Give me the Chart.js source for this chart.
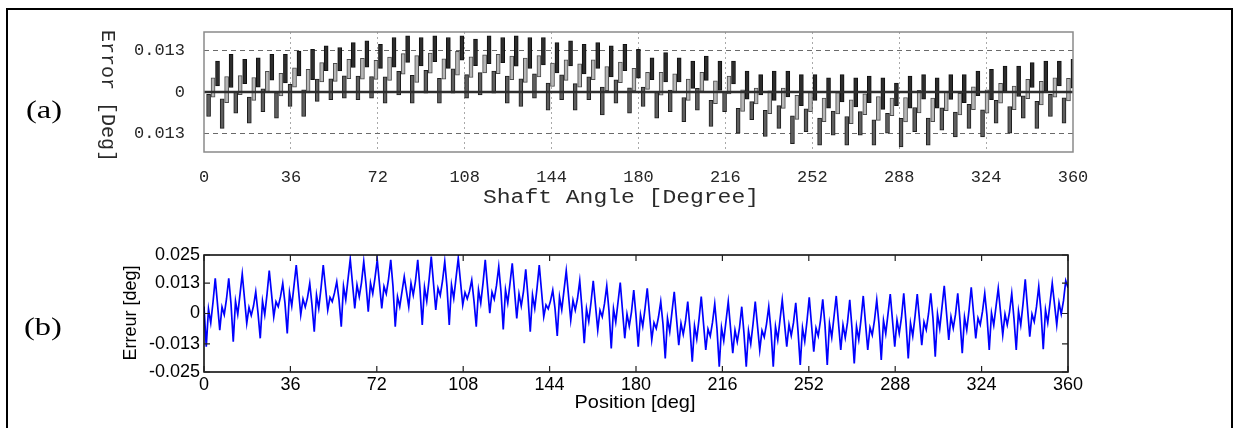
<!DOCTYPE html>
<html>
<head>
<meta charset="utf-8">
<script src="https://cdn.jsdelivr.net/npm/chart.js@4.4.1/dist/chart.umd.min.js"></script>
<style>
html,body{margin:0;padding:0;background:#fff;}
#page{position:relative;width:1236px;height:428px;overflow:hidden;background:#fff;}
.frame{position:absolute;left:6px;top:8px;width:1227px;height:460px;border:2px solid #000;box-sizing:border-box;}
canvas{position:absolute;left:0;}
.lbl{position:absolute;white-space:nowrap;line-height:1;}
</style>
</head>
<body>
<div id="page">
<div class="frame"></div>
<canvas id="chartA" width="1236" height="215" style="top:0;width:1236px;height:215px"></canvas>
<canvas id="chartB" width="1236" height="200" style="top:228px;width:1236px;height:200px"></canvas>
<div class="lbl" style="left:44px;top:110px;transform:translate(-50%,-50%) scaleX(1.3);font:25px 'Liberation Serif';color:#000">(a)</div>
<div class="lbl" style="left:43px;top:327px;transform:translate(-50%,-50%) scaleX(1.3);font:25px 'Liberation Serif';color:#000">(b)</div>
<div class="lbl" style="left:107px;top:96px;transform:translate(-50%,-50%) rotate(90deg);font:20px 'Liberation Mono';color:#2a2a2a">Error [Deg]</div>
<div class="lbl" style="left:621px;top:197px;transform:translate(-50%,-50%) scaleX(1.15);font:20px 'Liberation Mono';color:#2a2a2a">Shaft Angle [Degree]</div>
<div class="lbl" style="left:130px;top:313px;transform:translate(-50%,-50%) rotate(-90deg);font:18px 'Liberation Sans';color:#000">Erreur [deg]</div>
<div class="lbl" style="left:635px;top:402px;transform:translate(-50%,-50%) scaleX(1.05);font:19px 'Liberation Sans';color:#000">Position [deg]</div>
</div>
<script>
// ---------- Panel (a): Shaft angle error, floating bars per encoder cycle ----------
const xTicksA = [0, 36, 72, 108, 144, 180, 216, 252, 288, 324, 360];
const yTickValuesA = [0.013, 0, -0.013];
const yTickLabelsA = ['0.013', '0', '0.013'];
const cyclesA = 64;
const barOffsetsA = [1.9, 3.75, 5.6]; // degrees within each cycle
const troughBars = [
[-0.0076,-0.0007],[-0.0113,-0.0021],[-0.0066,0.0001],[-0.0097,-0.0016],[-0.0061,0.0010],[-0.0081,-0.0002],[-0.0045,0.0024],[-0.0076,0.0007],
[-0.0029,0.0040],[-0.0024,0.0041],[-0.0019,0.0050],[-0.0024,0.0049],[-0.0019,0.0048],[-0.0035,0.0047],[-0.0009,0.0064],[-0.0035,0.0052],
[-0.0004,0.0067],[-0.0035,0.0042],[-0.0004,0.0072],[-0.0019,0.0054],[-0.0009,0.0060],[-0.0004,0.0065],[-0.0035,0.0049],[-0.0045,0.0041],
[-0.0019,0.0056],[-0.0056,0.0028],[-0.0024,0.0053],[-0.0056,0.0026],[-0.0024,0.0047],[-0.0071,0.0015],[-0.0035,0.0038],[-0.0066,0.0013],
[-0.0045,0.0015],[-0.0081,0.0000],[-0.0061,0.0006],[-0.0092,-0.0017],[-0.0056,0.0011],[-0.0107,-0.0026],[-0.0061,0.0002],[-0.0128,-0.0051],
[-0.0086,-0.0030],[-0.0138,-0.0057],[-0.0113,-0.0042],[-0.0160,-0.0074],[-0.0123,-0.0052],[-0.0165,-0.0081],[-0.0134,-0.0059],[-0.0165,-0.0076],
[-0.0134,-0.0061],[-0.0165,-0.0086],[-0.0128,-0.0066],[-0.0170,-0.0082],[-0.0123,-0.0048],[-0.0165,-0.0081],[-0.0118,-0.0049],[-0.0139,-0.0062],
[-0.0113,-0.0038],[-0.0139,-0.0055],[-0.0097,-0.0026],[-0.0128,-0.0045],[-0.0081,-0.0012],[-0.0113,-0.0029],[-0.0076,-0.0007],[-0.0097,-0.0018]
];
const midBars = [
[-0.0016,0.0044],[-0.0033,0.0048],[-0.0008,0.0051],[-0.0026,0.0045],[0.0001,0.0064],[-0.0012,0.0058],[0.0015,0.0075],[-0.0003,0.0070],
[0.0031,0.0091],[0.0033,0.0089],[0.0041,0.0101],[0.0040,0.0104],[0.0039,0.0098],[0.0036,0.0108],[0.0055,0.0119],[0.0030,0.0113],
[0.0058,0.0121],[0.0040,0.0103],[0.0052,0.0126],[0.0045,0.0109],[0.0059,0.0115],[0.0057,0.0117],[0.0038,0.0111],[0.0030,0.0105],
[0.0047,0.0113],[0.0017,0.0090],[0.0036,0.0100],[0.0015,0.0087],[0.0038,0.0100],[0.0004,0.0079],[0.0029,0.0093],[0.0003,0.0073],
[0.0008,0.0061],[-0.0010,0.0061],[-0.0003,0.0056],[-0.0026,0.0040],[0.0002,0.0061],[-0.0036,0.0035],[-0.0006,0.0049],[-0.0060,0.0007],
[-0.0037,0.0012],[-0.0067,0.0004],[-0.0051,0.0012],[-0.0085,-0.0010],[-0.0061,0.0001],[-0.0092,-0.0019],[-0.0068,-0.0002],[-0.0098,-0.0024],
[-0.0070,-0.0006],[-0.0088,-0.0014],[-0.0073,-0.0019],[-0.0093,-0.0017],[-0.0065,0.0005],[-0.0092,-0.0019],[-0.0058,0.0002],[-0.0071,-0.0004],
[-0.0055,0.0016],[-0.0066,0.0007],[-0.0035,0.0027],[-0.0055,0.0018],[-0.0021,0.0039],[-0.0040,0.0033],[-0.0016,0.0044],[-0.0028,0.0042]
];
const peakBars = [
[0.0019,0.0096],[0.0014,0.0117],[0.0026,0.0101],[0.0015,0.0106],[0.0037,0.0117],[0.0028,0.0117],[0.0050,0.0127],[0.0038,0.0132],
[0.0066,0.0143],[0.0065,0.0138],[0.0076,0.0153],[0.0077,0.0159],[0.0073,0.0148],[0.0077,0.0169],[0.0092,0.0174],[0.0081,0.0169],
[0.0094,0.0174],[0.0073,0.0169],[0.0099,0.0174],[0.0082,0.0164],[0.0088,0.0174],[0.0091,0.0169],[0.0080,0.0174],[0.0073,0.0169],
[0.0084,0.0169],[0.0059,0.0153],[0.0081,0.0159],[0.0056,0.0148],[0.0073,0.0153],[0.0047,0.0143],[0.0066,0.0148],[0.0043,0.0132],
[0.0038,0.0106],[0.0031,0.0122],[0.0031,0.0106],[0.0011,0.0096],[0.0036,0.0111],[0.0005,0.0096],[0.0025,0.0096],[-0.0022,0.0065],
[-0.0009,0.0054],[-0.0026,0.0065],[-0.0015,0.0065],[-0.0042,0.0054],[-0.0026,0.0054],[-0.0050,0.0044],[-0.0031,0.0054],[-0.0046,0.0044],
[-0.0033,0.0049],[-0.0054,0.0044],[-0.0042,0.0028],[-0.0050,0.0049],[-0.0022,0.0054],[-0.0050,0.0044],[-0.0023,0.0054],[-0.0033,0.0054],
[-0.0011,0.0065],[-0.0024,0.0070],[0.0000,0.0080],[-0.0014,0.0080],[0.0014,0.0091],[0.0002,0.0096],[0.0019,0.0096],[0.0012,0.0101]
];

// ---------- Panel (b): Position error, continuous trace ----------
const xTicksB = [0, 36, 72, 108, 144, 180, 216, 252, 288, 324, 360];
const yTickValuesB = [0.025, 0.013, 0, -0.013, -0.025];
const yTickLabelsB = ['0.025', '0.013', '0', '-0.013', '-0.025'];
const errorB = [
0.0030,-0.0142,0.0019,-0.0040,0.0048,0.0150,
0.0040,-0.0071,0.0028,-0.0005,0.0062,0.0150,
0.0042,-0.0120,0.0053,-0.0004,0.0082,0.0169,
0.0064,-0.0042,0.0026,-0.0008,0.0032,0.0093,
0.0003,-0.0106,0.0053,-0.0005,0.0082,0.0183,
0.0085,-0.0014,0.0050,0.0029,0.0072,0.0129,
0.0043,-0.0085,0.0090,0.0032,0.0119,0.0207,
0.0101,-0.0006,0.0062,0.0028,0.0068,0.0129,
0.0036,-0.0078,0.0079,0.0022,0.0107,0.0207,
0.0111,0.0015,0.0069,0.0051,0.0088,0.0136,
0.0059,-0.0056,0.0117,0.0059,0.0146,0.0232,
0.0127,0.0022,0.0122,0.0072,0.0132,0.0222,
0.0126,0.0008,0.0130,0.0085,0.0152,0.0229,
0.0126,0.0022,0.0115,0.0084,0.0146,0.0229,
0.0115,-0.0056,0.0072,0.0029,0.0093,0.0157,
0.0093,0.0029,0.0129,0.0079,0.0139,0.0229,
0.0104,-0.0049,0.0112,0.0053,0.0141,0.0243,
0.0129,0.0015,0.0108,0.0077,0.0139,0.0222,
0.0114,-0.0049,0.0122,0.0065,0.0151,0.0236,
0.0136,0.0036,0.0090,0.0063,0.0095,0.0143,
0.0053,-0.0056,0.0101,0.0044,0.0129,0.0229,
0.0115,0.0001,0.0091,0.0061,0.0120,0.0200,
0.0093,-0.0068,0.0101,0.0045,0.0129,0.0214,
0.0097,-0.0021,0.0084,0.0032,0.0095,0.0189,
0.0069,-0.0078,0.0079,0.0022,0.0107,0.0207,
0.0097,-0.0014,0.0037,0.0020,0.0054,0.0100,
0.0022,-0.0096,0.0071,0.0016,0.0099,0.0183,
0.0078,-0.0028,0.0056,0.0014,0.0064,0.0140,
0.0020,-0.0127,0.0020,-0.0034,0.0047,0.0140,
0.0035,-0.0071,0.0014,-0.0014,0.0042,0.0118,
0.0011,-0.0149,0.0020,-0.0037,0.0048,0.0132,
0.0013,-0.0106,-0.0003,-0.0054,0.0007,0.0100,
-0.0009,-0.0142,-0.0005,-0.0055,0.0021,0.0108,
-0.0003,-0.0113,-0.0039,-0.0064,-0.0015,0.0051,
-0.0046,-0.0192,-0.0021,-0.0078,0.0008,0.0093,
-0.0021,-0.0135,-0.0042,-0.0089,-0.0033,0.0051,
-0.0065,-0.0206,-0.0053,-0.0109,-0.0025,0.0072,
-0.0042,-0.0156,-0.0067,-0.0097,-0.0038,0.0041,
-0.0066,-0.0227,-0.0060,-0.0116,-0.0032,0.0051,
-0.0060,-0.0170,-0.0071,-0.0120,-0.0061,0.0029,
-0.0086,-0.0227,-0.0074,-0.0130,-0.0046,0.0051,
-0.0053,-0.0156,-0.0073,-0.0101,-0.0045,0.0029,
-0.0073,-0.0227,-0.0056,-0.0113,-0.0027,0.0058,
-0.0042,-0.0142,-0.0048,-0.0095,-0.0039,0.0046,
-0.0074,-0.0220,-0.0061,-0.0119,-0.0032,0.0069,
-0.0047,-0.0163,-0.0062,-0.0096,-0.0029,0.0061,
-0.0051,-0.0220,-0.0043,-0.0102,-0.0014,0.0075,
-0.0041,-0.0156,-0.0049,-0.0103,-0.0038,0.0058,
-0.0064,-0.0213,-0.0055,-0.0112,-0.0026,0.0075,
-0.0041,-0.0156,-0.0060,-0.0092,-0.0028,0.0058,
-0.0045,-0.0199,-0.0030,-0.0086,-0.0002,0.0083,
-0.0030,-0.0142,-0.0028,-0.0085,-0.0017,0.0086,
-0.0039,-0.0192,-0.0041,-0.0096,-0.0013,0.0083,
-0.0026,-0.0135,-0.0036,-0.0069,-0.0002,0.0086,
-0.0022,-0.0185,-0.0003,-0.0064,0.0027,0.0118,
0.0003,-0.0113,-0.0014,-0.0063,-0.0004,0.0086,
-0.0029,-0.0170,-0.0015,-0.0071,0.0013,0.0112,
0.0003,-0.0106,-0.0020,-0.0048,0.0009,0.0086,
-0.0011,-0.0156,0.0002,-0.0050,0.0029,0.0108,
0.0008,-0.0092,-0.0003,-0.0048,0.0006,0.0086,
-0.0023,-0.0156,0.0010,-0.0050,0.0040,0.0146,
0.0024,-0.0099,-0.0003,-0.0035,0.0029,0.0115,
0.0008,-0.0153,0.0016,-0.0040,0.0044,0.0129,
0.0040,-0.0049,0.0046,-0.0002,0.0055,0.0140,
0.0110
];

// ---------- build chart (a) ----------
const cycleDeg = 360 / cyclesA;
function barSeries(pairs, k) {
  return pairs.map((r, j) => ({ x: j * cycleDeg + barOffsetsA[k], y: r }));
}
const monoA = { family: "'Liberation Mono', 'DejaVu Sans Mono', monospace", size: 17 };

const overlayA = {
  id: 'overlayA',
  afterDatasetsDraw(chart) {
    const { ctx, chartArea: a, scales: { y } } = chart;
    ctx.save();
    const y0 = y.getPixelForValue(0);
    ctx.strokeStyle = '#2e2e2e';
    ctx.lineWidth = 2.5;
    ctx.beginPath();
    ctx.moveTo(a.left, y0);
    ctx.lineTo(a.right, y0);
    ctx.stroke();
    ctx.strokeStyle = '#8a8a8a';
    ctx.lineWidth = 1.5;
    ctx.strokeRect(a.left, a.top, a.right - a.left, a.bottom - a.top);
    ctx.restore();
  }
};

new Chart(document.getElementById('chartA'), {
  type: 'bar',
  data: {
    datasets: [
      { data: barSeries(troughBars, 0), backgroundColor: '#5e5e5e', borderColor: '#1e1e1e' },
      { data: barSeries(midBars, 1), backgroundColor: '#b6b6b6', borderColor: '#4a4a4a' },
      { data: barSeries(peakBars, 2), backgroundColor: '#2c2c2c', borderColor: '#101010' }
    ]
  },
  options: {
    responsive: false, animation: false, devicePixelRatio: 1,
    layout: { padding: { left: 0, right: 163, top: 32, bottom: 0 } },
    plugins: { legend: { display: false }, tooltip: { enabled: false } },
    datasets: { bar: { grouped: false, barThickness: 4, borderWidth: 1, borderSkipped: false } },
    scales: {
      x: {
        type: 'linear', min: 0, max: 360, offset: false,
        afterBuildTicks: s => { s.ticks = xTicksA.map(v => ({ value: v })); },
        afterFit: s => { s.height = 63; },
        ticks: { font: monoA, color: '#262626', padding: 15, maxRotation: 0, autoSkip: false, callback: v => String(v) },
        grid: { offset: false, drawTicks: false, lineWidth: 1,
          color: c => (c.tick && (c.tick.value === 0 || c.tick.value === 360)) ? 'rgba(0,0,0,0)' : '#a9a9a9' },
        border: { display: false, dash: [2, 3] }
      },
      y: {
        type: 'linear', min: -0.0186, max: 0.0186,
        afterBuildTicks: s => { s.ticks = yTickValuesA.map(v => ({ value: v })); },
        afterFit: s => { s.width = 204; },
        ticks: { font: monoA, color: '#262626', padding: 19, callback: v => yTickLabelsA[yTickValuesA.indexOf(v)] },
        grid: { drawTicks: false, lineWidth: 1,
          color: c => (c.tick && c.tick.value === 0) ? 'rgba(0,0,0,0)' : '#6a6a6a' },
        border: { display: false, dash: [5, 4] }
      }
    }
  },
  plugins: [overlayA]
});

// ---------- build chart (b) ----------
const stepB = 360 / (errorB.length - 1);
const sansB = { family: "'Liberation Sans', Arial, sans-serif", size: 18 };

const overlayB = {
  id: 'overlayB',
  afterDatasetsDraw(chart) {
    const { ctx, chartArea: a, scales: { x, y } } = chart;
    ctx.save();
    ctx.strokeStyle = '#000';
    ctx.lineWidth = 1.5;
    ctx.strokeRect(a.left, a.top, a.right - a.left, a.bottom - a.top);
    ctx.lineWidth = 1.2;
    ctx.strokeStyle = '#222';
    ctx.beginPath();
    x.ticks.forEach(t => {
      const px = x.getPixelForValue(t.value);
      ctx.moveTo(px, a.bottom); ctx.lineTo(px, a.bottom - 6);
      ctx.moveTo(px, a.top); ctx.lineTo(px, a.top + 6);
    });
    y.ticks.forEach(t => {
      const py = y.getPixelForValue(t.value);
      ctx.moveTo(a.left, py); ctx.lineTo(a.left + 6, py);
      ctx.moveTo(a.right, py); ctx.lineTo(a.right - 6, py);
    });
    ctx.stroke();
    ctx.restore();
  }
};

new Chart(document.getElementById('chartB'), {
  type: 'line',
  data: {
    datasets: [{
      data: errorB.map((v, i) => ({ x: i * stepB, y: v })),
      borderColor: '#0000ff', borderWidth: 1.7, pointRadius: 0, tension: 0, fill: false
    }]
  },
  options: {
    responsive: false, animation: false, devicePixelRatio: 1,
    layout: { padding: { left: 0, right: 168, top: 27, bottom: 0 } },
    plugins: { legend: { display: false }, tooltip: { enabled: false } },
    scales: {
      x: {
        type: 'linear', min: 0, max: 360,
        afterBuildTicks: s => { s.ticks = xTicksB.map(v => ({ value: v })); },
        afterFit: s => { s.height = 56; },
        ticks: { font: sansB, color: '#000', padding: 2, maxRotation: 0, autoSkip: false, callback: v => String(v) },
        grid: { display: false, drawTicks: false },
        border: { display: false }
      },
      y: {
        type: 'linear', min: -0.025, max: 0.025,
        afterBuildTicks: s => { s.ticks = yTickValuesB.map(v => ({ value: v })); },
        afterFit: s => { s.width = 204; },
        ticks: { font: sansB, color: '#000', padding: 4, callback: v => yTickLabelsB[yTickValuesB.indexOf(v)] },
        grid: { display: false, drawTicks: false },
        border: { display: false }
      }
    }
  },
  plugins: [overlayB]
});
</script>
</body>
</html>
